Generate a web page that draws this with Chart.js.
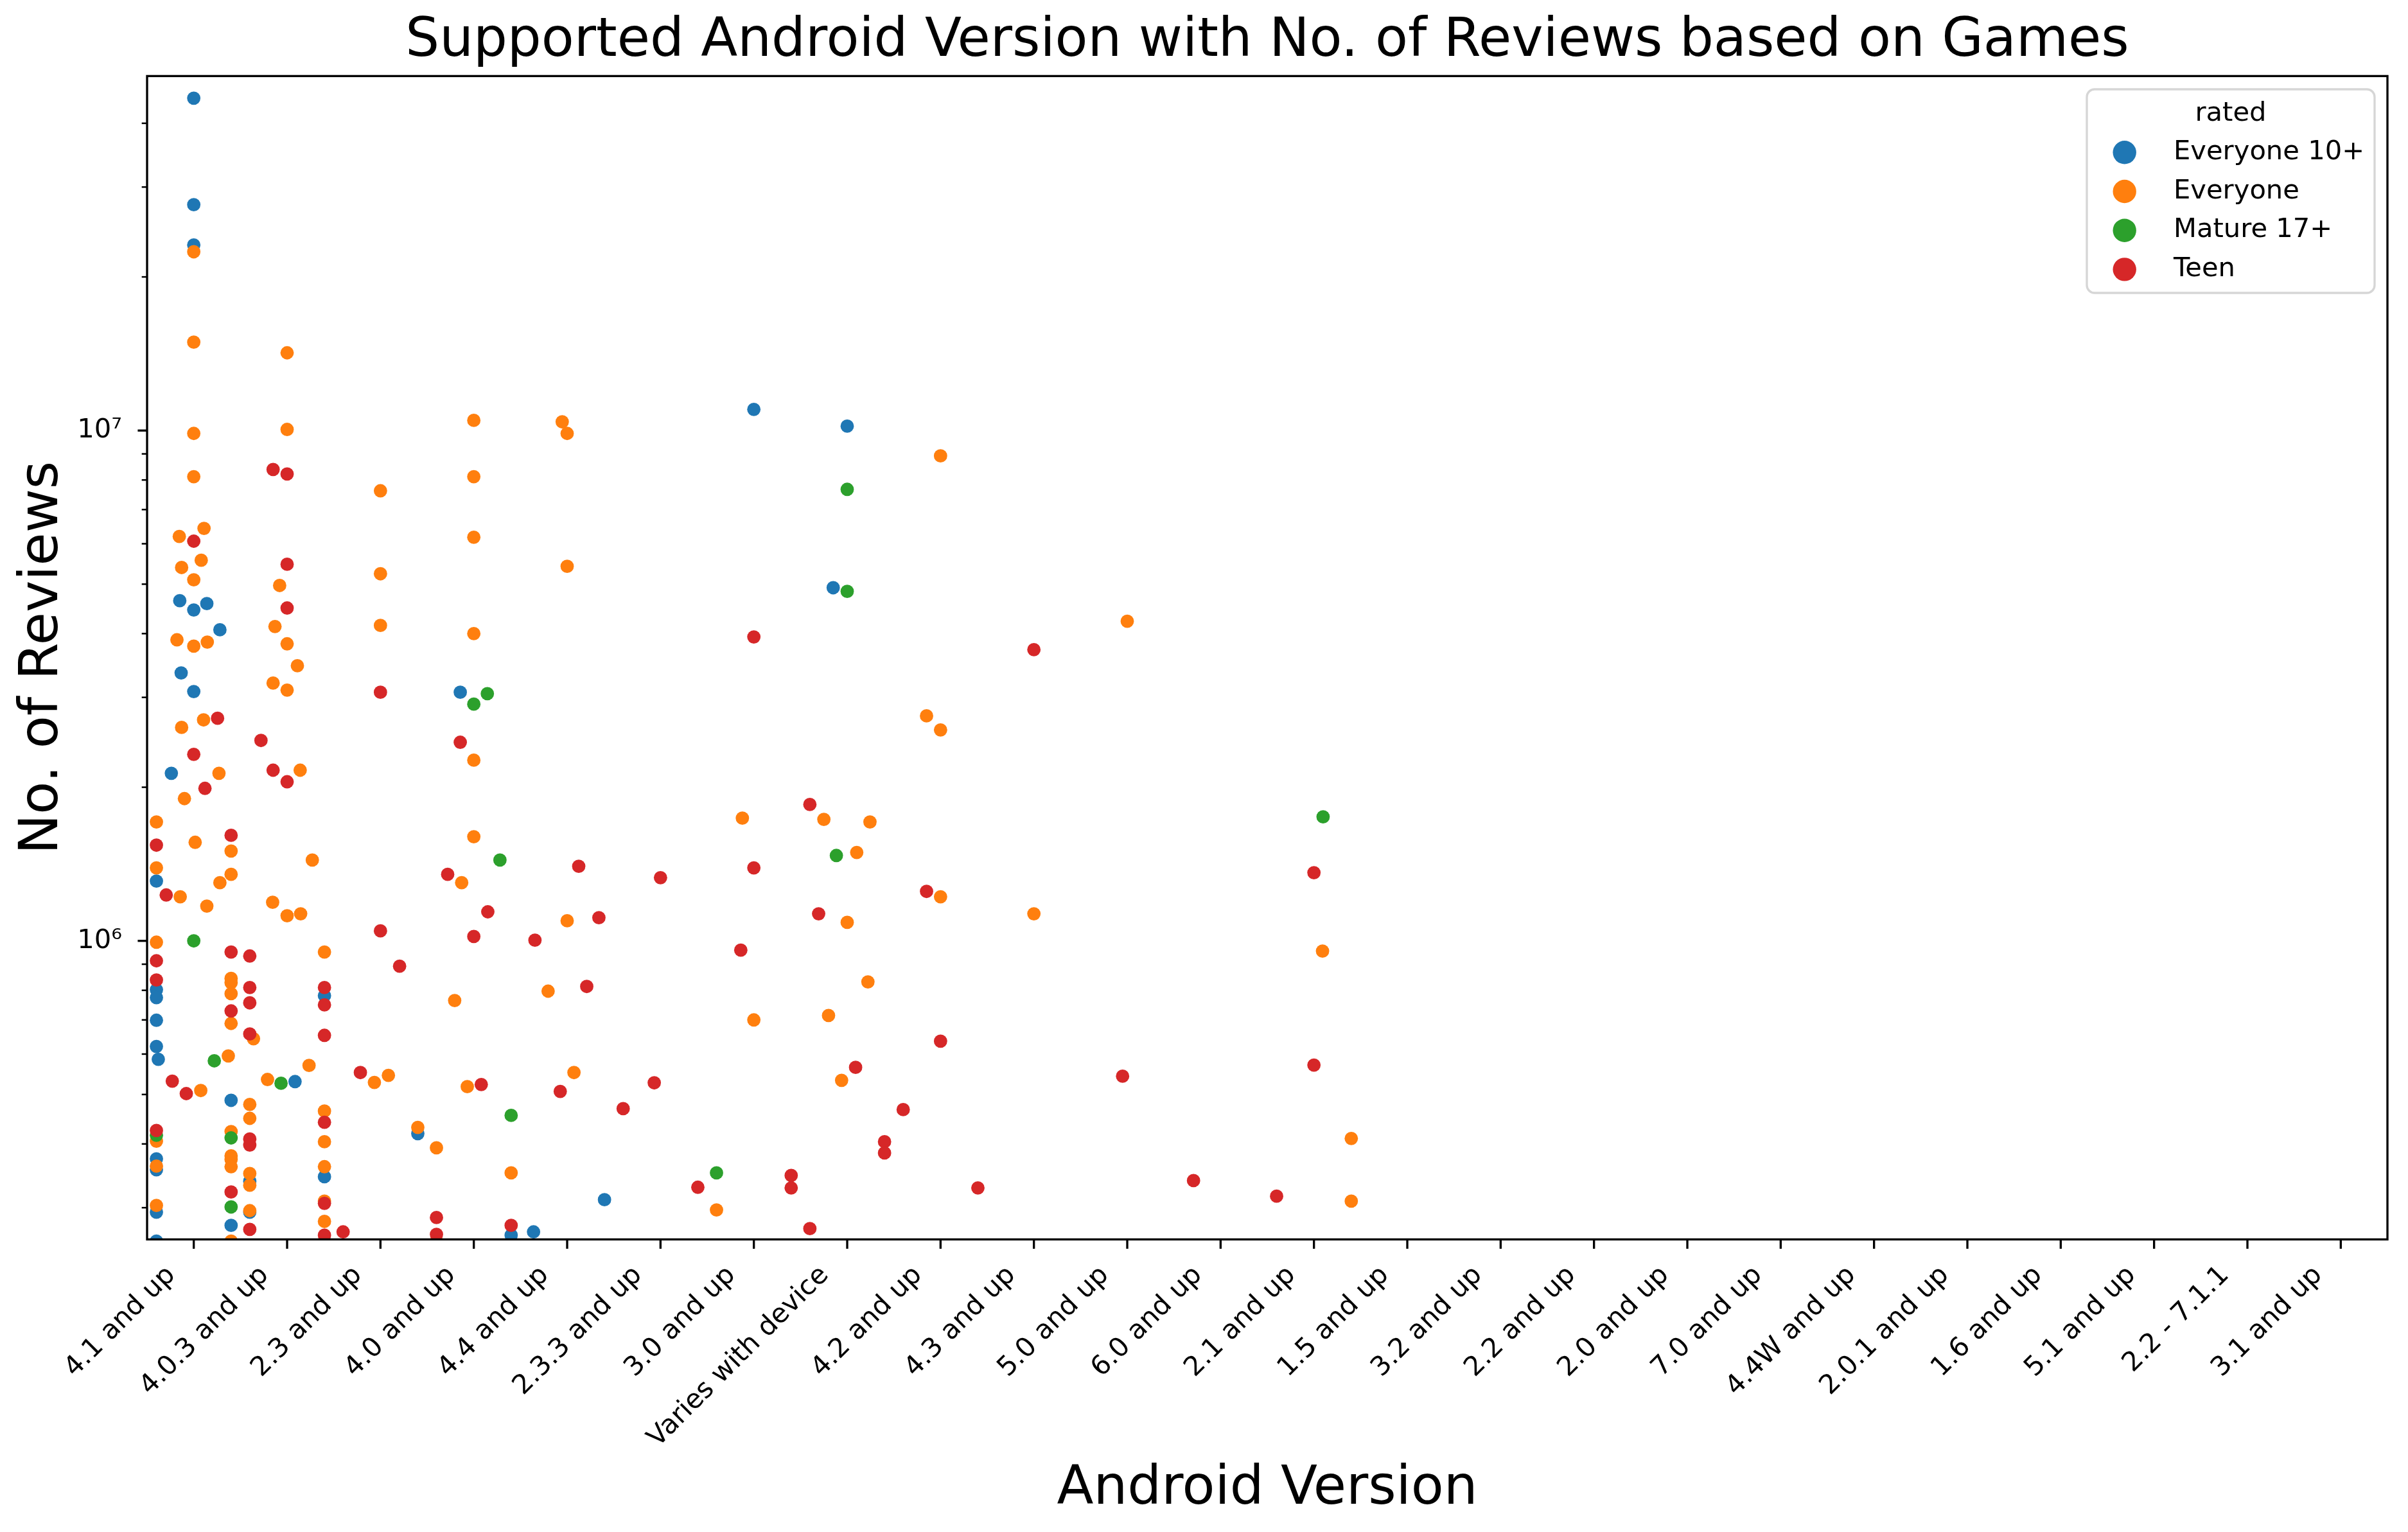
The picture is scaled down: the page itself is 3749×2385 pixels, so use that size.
<!DOCTYPE html>
<html>
<head>
<meta charset="utf-8">
<style>
  html, body { margin: 0; padding: 0; background: #ffffff; }
  #wrap { width: 3749px; height: 2385px; }
</style>
<script src="https://cdn.jsdelivr.net/npm/chart.js@4.4.1/dist/chart.umd.min.js"></script>
</head>
<body>
<div id="wrap"><canvas id="c" width="3749" height="2385"></canvas></div>
<script>
// ---------------- DATA ----------------
const categories = ["4.1 and up","4.0.3 and up","2.3 and up","4.0 and up","4.4 and up","2.3.3 and up",
  "3.0 and up","Varies with device","4.2 and up","4.3 and up","5.0 and up","6.0 and up","2.1 and up",
  "1.5 and up","3.2 and up","2.2 and up","2.0 and up","7.0 and up","4.4W and up","2.0.1 and up",
  "1.6 and up","5.1 and up","2.2 - 7.1.1","3.1 and up"];
const seriesNames = ["Everyone 10+", "Everyone", "Mature 17+", "Teen"];

// Reviews per Android version (index = category), one list per rating
const e10Reviews = [
  [4.48e7,2.77e7,2.31e7,4.64e6,4.45e6,4.58e6,4.07e6,3.35e6,3.08e6,2.13e6,1.31e6,8.02e5,7.74e5,6.99e5,6.21e5,5.86e5,3.74e5,3.56e5,2.94e5,2.58e5,4.87e5,2.77e5],
  [5.30e5,3.38e5,2.94e5,7.81e5,3.45e5,2.58e5],
  [4.19e5],
  [3.07e6,2.65e5],
  [2.69e5,3.11e5],
  [],
  [1.10e7],
  [1.02e7,4.92e6],
  [],[],[],[],[]
];
const e10Jitter = [
  [0,0,0,-0.15,0,0.14,0.28,-0.135,0,-0.24,-0.4,-0.4,-0.4,-0.4,-0.4,-0.38,-0.4,-0.4,-0.4,-0.4,0.4,0.4],
  [0.085,-0.4,-0.4,0.4,0.4,0.4],
  [0.4],
  [-0.145,0.4],
  [-0.36,0.4],
  [],
  [0],
  [0,-0.15],
  [],[],[],[],[]
];

const everyoneReviews = [
  [2.24e7,1.49e7,9.87e6,8.12e6,6.43e6,6.20e6,5.57e6,5.39e6,5.10e6,3.89e6,3.78e6,3.85e6,2.62e6,2.71e6,2.13e6,1.90e6,1.71e6,1.56e6,1.50e6,1.39e6,1.35e6,1.30e6,1.22e6,1.17e6,9.94e5,5.09e5,8.44e5,8.28e5,7.88e5,6.89e5,5.95e5,4.05e5,3.62e5,3.03e5,4.23e5,3.79e5,3.73e5,3.61e5,2.58e5],
  [1.42e7,1.005e7,4.97e6,4.13e6,3.82e6,3.46e6,3.20e6,3.10e6,2.16e6,1.44e6,1.19e6,1.12e6,1.13e6,6.43e5,5.35e5,5.70e5,9.51e5,4.78e5,4.49e5,3.50e5,3.32e5,2.96e5,4.64e5,4.04e5,3.61e5,3.09e5,2.82e5],
  [7.62e6,5.24e6,4.15e6,5.28e5,5.45e5,4.31e5],
  [1.047e7,8.12e6,6.18e6,4.00e6,2.26e6,1.60e6,1.30e6,7.64e5,5.18e5,3.51e5,3.93e5,2.58e5],
  [1.04e7,9.87e6,5.42e6,1.095e6,7.97e5,5.52e5],
  [],
  [1.74e6,7.0e5,2.97e5],
  [1.73e6,1.71e6,1.49e6,1.087e6,8.31e5,7.14e5,5.33e5],
  [8.92e6,2.76e6,2.59e6,1.22e6],
  [1.13e6],
  [4.23e6],
  [],
  [9.55e5,4.10e5,3.09e5]
];
const everyoneJitter = [
  [0,0,0,0,0.11,-0.155,0.08,-0.13,0,-0.18,0,0.145,-0.13,0.105,0.27,-0.10,-0.4,0.015,0.4,-0.4,0.4,0.28,-0.145,0.14,-0.4,0.075,0.4,0.4,0.4,0.4,0.37,-0.4,-0.4,-0.4,0.4,0.4,0.4,0.4,0.4],
  [0,0,-0.08,-0.13,0,0.11,-0.15,0,0.14,0.27,-0.155,0,0.145,-0.36,-0.21,0.235,0.4,-0.4,-0.4,-0.4,-0.4,-0.4,0.4,0.4,0.4,0.4,0.4],
  [0,0,0,-0.065,0.085,0.4],
  [0,0,0,0,0,0,-0.13,-0.205,-0.07,0.4,-0.4,-0.4],
  [-0.053,0,0,0,-0.204,0.073],
  [],
  [-0.123,0,-0.4],
  [-0.25,0.244,0.102,0,0.222,-0.2,-0.06],
  [0,-0.15,0,0],
  [0],
  [0],
  [],
  [0.092,0.4,0.4]
];

const matureReviews = [
  [1.0e6,5.82e5,4.16e5,4.11e5,3.01e5],
  [5.26e5],
  [],
  [3.05e6,2.91e6,1.44e6,4.55e5],
  [],[],
  [3.51e5],
  [7.67e6,4.84e6,1.47e6],
  [],[],[],[],
  [1.75e6]
];
const matureJitter = [
  [0,0.22,-0.4,0.4,0.4],
  [-0.065],
  [],
  [0.145,0,0.28,0.4],
  [],[],
  [-0.4],
  [0,0,-0.116],
  [],[],[],[],
  [0.098]
];

const teenReviews = [
  [6.07e6,2.73e6,2.32e6,1.99e6,1.54e6,1.61e6,1.23e6,9.14e5,8.38e5,5.31e5,5.02e5,9.51e5,7.29e5,4.25e5,3.22e5],
  [8.39e6,8.22e6,5.47e6,4.49e6,2.47e6,2.16e6,2.05e6,9.34e5,8.10e5,7.56e5,6.57e5,8.10e5,7.49e5,6.53e5,4.09e5,3.98e5,2.72e5,4.41e5,3.06e5,2.65e5],
  [3.07e6,1.046e6,8.92e5,5.52e5,2.69e5],
  [2.45e6,1.35e6,1.14e6,1.02e6,5.23e5,2.77e5,2.87e5,2.66e5],
  [1.40e6,1.11e6,1.003e6,8.14e5,5.07e5],
  [1.33e6,5.27e5,4.69e5,3.29e5],
  [3.94e6,1.39e6,9.59e5,3.47e5,3.28e5],
  [1.85e6,1.13e6,5.65e5,4.04e5,3.84e5,2.73e5],
  [1.25e6,6.36e5,4.67e5,3.28e5],
  [3.72e6],
  [5.43e5],
  [3.39e5],
  [1.36e6,5.71e5,3.16e5]
];
const teenJitter = [
  [0,0.255,0,0.12,-0.4,0.4,-0.295,-0.4,-0.4,-0.23,-0.08,0.4,0.4,-0.4,0.4],
  [-0.15,0,0,0,-0.28,-0.15,0,-0.4,-0.4,-0.4,-0.4,0.4,0.4,0.4,-0.4,-0.4,-0.4,0.4,0.4,0.4],
  [0,0,0.205,-0.215,-0.4],
  [-0.145,-0.28,0.15,0,0.08,0.4,-0.4,-0.4],
  [0.124,0.34,-0.345,0.21,-0.074],
  [0,-0.067,-0.4,0.4],
  [0,0,-0.14,0.4,0.4],
  [-0.4,-0.306,0.09,0.4,0.4,-0.4],
  [-0.15,0,-0.4,0.4],
  [0],
  [-0.05],
  [-0.29],
  [0,0,-0.4]
];

// ---------------- BUILD ----------------
const colors = ["#1f77b4", "#ff7f0e", "#2ca02c", "#d62728"];
function toPoints(reviews, jitter) {
  const pts = [];
  reviews.forEach((list, ci) => {
    list.forEach((v, k) => pts.push({ x: ci + (jitter[ci][k] || 0), y: v }));
  });
  return pts;
}
const allReviews = [e10Reviews, everyoneReviews, matureReviews, teenReviews];
const allJitter = [e10Jitter, everyoneJitter, matureJitter, teenJitter];

const FONT = "DejaVu Sans";
const PT = 300 / 72;
const sup = { 4: "\u2074", 5: "\u2075", 6: "\u2076", 7: "\u2077", 8: "\u2078" };
const isPow10 = v => Math.abs(v - Math.pow(10, Math.round(Math.log10(v)))) < 1e-6 * v;

const framePlugin = {
  id: "frame",
  afterDraw(chart) {
    const { ctx, chartArea: a, scales } = chart;
    const x = scales.x, y = scales.y;
    ctx.save();
    ctx.strokeStyle = "#000";
    ctx.lineCap = "butt";
    // y ticks (major + minor)
    y.ticks.forEach(t => {
      const py = y.getPixelForValue(t.value);
      const major = isPow10(t.value);
      const len = major ? 3.5 * PT : 2 * PT;
      ctx.lineWidth = major ? 0.8 * PT : 0.6 * PT;
      ctx.beginPath(); ctx.moveTo(a.left - len, py); ctx.lineTo(a.left, py); ctx.stroke();
    });
    // x ticks
    ctx.lineWidth = 0.8 * PT;
    x.ticks.forEach(t => {
      const px = x.getPixelForValue(t.value);
      ctx.beginPath(); ctx.moveTo(px, a.bottom); ctx.lineTo(px, a.bottom + 3.5 * PT); ctx.stroke();
    });
    // axes frame
    ctx.lineWidth = 0.8 * PT;
    ctx.strokeRect(a.left, a.top, a.right - a.left, a.bottom - a.top);

    // legend (inside axes, upper right)
    const L = { left: 3249, top: 139, right: 3697, bottom: 456, r: 12 };
    ctx.beginPath();
    ctx.moveTo(L.left + L.r, L.top);
    ctx.arcTo(L.right, L.top, L.right, L.bottom, L.r);
    ctx.arcTo(L.right, L.bottom, L.left, L.bottom, L.r);
    ctx.arcTo(L.left, L.bottom, L.left, L.top, L.r);
    ctx.arcTo(L.left, L.top, L.right, L.top, L.r);
    ctx.closePath();
    ctx.fillStyle = "rgba(255,255,255,0.8)";
    ctx.fill();
    ctx.strokeStyle = "#d6d6d6";
    ctx.lineWidth = 0.8 * PT;
    ctx.stroke();
    ctx.fillStyle = "#000";
    ctx.font = (10 * PT) + "px '" + FONT + "'";
    ctx.textBaseline = "alphabetic";
    ctx.textAlign = "center";
    ctx.fillText("rated", (L.left + L.right) / 2, 187.5);
    ctx.textAlign = "left";
    chart.data.datasets.forEach((ds, i) => {
      const cy = 237.3 + i * 60.7;
      ctx.beginPath();
      ctx.arc(3307.7, cy, 18.2, 0, Math.PI * 2);
      ctx.fillStyle = ds.backgroundColor;
      ctx.fill();
      ctx.fillStyle = "#000";
      ctx.fillText(ds.label, 3384, cy + 10.7);
    });
    ctx.restore();
  }
};

Chart.defaults.font.family = FONT;
Chart.defaults.color = "#000";

new Chart(document.getElementById("c"), {
  type: "scatter",
  data: {
    datasets: seriesNames.map((name, i) => ({
      label: name,
      data: toPoints(allReviews[i], allJitter[i]),
      backgroundColor: colors[i],
      borderWidth: 0,
      pointRadius: 2.5 * PT,
      pointHoverRadius: 2.5 * PT,
      clip: 0,
      order: 3 - i
    }))
  },
  options: {
    responsive: false,
    animation: false,
    events: [],
    layout: { padding: { left: 0, right: 32, top: 0, bottom: 0 } },
    plugins: {
      legend: { display: false },
      tooltip: { enabled: false },
      title: {
        display: true,
        text: "Supported Android Version with No. of Reviews based on Games",
        fullSize: false,
        color: "#000",
        font: { family: FONT, size: 20 * PT, weight: "normal", lineHeight: 1.2 },
        padding: { top: 15, bottom: 3.4 }
      }
    },
    scales: {
      x: {
        type: "linear",
        min: -0.5,
        max: 23.5,
        grid: { display: false },
        border: { display: false },
        afterBuildTicks(scale) {
          scale.ticks = categories.map((c, i) => ({ value: i }));
        },
        afterFit(scale) { scale.height = 2385 - 1929.5; },
        ticks: {
          autoSkip: false,
          maxRotation: 45,
          minRotation: 45,
          padding: 23.6,
          labelOffset: -35,
          font: { family: FONT, size: 10 * PT },
          color: "#000",
          callback: v => categories[Math.round(v)]
        },
        title: {
          display: true,
          text: "Android Version",
          color: "#000",
          font: { family: FONT, size: 20 * PT, lineHeight: 1.2 },
          padding: { top: 0, bottom: 16 }
        }
      },
      y: {
        type: "logarithmic",
        min: 2.6e5,
        max: 4.95e7,
        grid: { display: false },
        border: { display: false },
        afterBuildTicks(scale) {
          const t = [];
          for (let e = 5; e <= 7; e++) {
            for (let d = 1; d <= 9; d++) {
              const v = d * Math.pow(10, e);
              if (v >= scale.min && v <= scale.max) t.push({ value: v, major: d === 1 });
            }
          }
          scale.ticks = t;
        },
        afterFit(scale) { scale.width = 229; },
        ticks: {
          autoSkip: false,
          padding: 31,
          font: { family: FONT, size: 10 * PT },
          color: "#000",
          callback: v => isPow10(v) ? "10" + sup[Math.round(Math.log10(v))] : ""
        },
        title: {
          display: true,
          text: "No. of Reviews",
          color: "#000",
          font: { family: FONT, size: 20 * PT, lineHeight: 1.2 },
          padding: { top: 17, bottom: 0 }
        }
      }
    }
  },
  plugins: [framePlugin]
});
</script>
</body>
</html>
